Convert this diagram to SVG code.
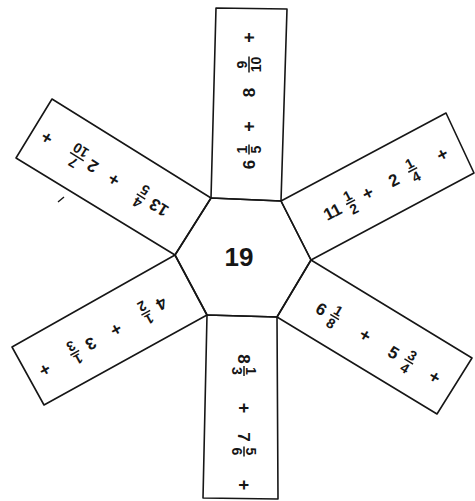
<svg xmlns="http://www.w3.org/2000/svg" width="475" height="501" viewBox="0 0 475 501">
<style>
.shape{fill:none;stroke:#161616;stroke-width:1.6;stroke-linejoin:round}
text{font-family:"Liberation Sans",Arial,sans-serif;font-weight:bold;fill:#161616;text-anchor:middle}
.w{font-size:17px}
.f{font-size:14px}
.p{font-size:18px}
.c{font-size:26px}
.bar{stroke:#161616;stroke-width:1.5}
</style>
<rect width="475" height="501" fill="#ffffff"/>
<g id="connectors"></g>

<g id="hexagon">
<polygon class="shape" points="211,198 281,201 311,260 277,317 207,315 175,255"/>
<text class="c" x="239" y="266">19</text>
</g>

<g id="arm-top">
<polygon class="shape" points="216,8 287,9 281,201 211,198"/>
<g transform="translate(246,199.5) rotate(-90) translate(0,3)">
<text class="w" x="35" y="6">6</text>
<text class="f" x="50" y="-2.2">1</text><line class="bar" x1="45" y1="0" x2="55" y2="0"/><text class="f" x="50" y="12.4">5</text>
<text class="p" x="73" y="6">+</text>
<text class="w" x="107" y="6">8</text>
<text class="f" x="135" y="-2.2">9</text><line class="bar" x1="127" y1="0" x2="143" y2="0"/><text class="f" x="135" y="12.4">10</text>
<text class="p" x="162" y="6">+</text>
</g>
</g>

<g id="arm-upper-right">
<polygon class="shape" points="281,201 446,113 474,173 311,260"/>
<g transform="translate(296,230.5) rotate(-27.4)">
<text class="w" x="41" y="6">11</text>
<text class="f" x="61.5" y="-2.2">1</text><line class="bar" x1="56.5" y1="0" x2="66.5" y2="0"/><text class="f" x="61.5" y="12.4">2</text>
<text class="p" x="81" y="6">+</text>
<text class="w" x="110" y="6">2</text>
<text class="f" x="131.5" y="-2.2">1</text><line class="bar" x1="126.5" y1="0" x2="136.5" y2="0"/><text class="f" x="131.5" y="12.4">4</text>
<text class="p" x="165" y="6">+</text>
</g>
</g>

<g id="arm-lower-right">
<polygon class="shape" points="311,260 472,358 437,414 277,317"/>
<g transform="translate(294,288.5) rotate(31) translate(0,3.5)">
<text class="w" x="34" y="6">6</text>
<text class="f" x="49.5" y="-2.2">1</text><line class="bar" x1="44.5" y1="0" x2="54.5" y2="0"/><text class="f" x="49.5" y="12.4">8</text>
<text class="p" x="85" y="6">+</text>
<text class="w" x="118.5" y="6">5</text>
<text class="f" x="136" y="-2.2">3</text><line class="bar" x1="131" y1="0" x2="141" y2="0"/><text class="f" x="136" y="12.4">4</text>
<text class="p" x="166" y="6">+</text>
</g>
</g>

<g id="arm-bottom">
<polygon class="shape" points="207,315 277,317 278,499 203,498"/>
<g transform="translate(242,316) rotate(90) translate(0,-2)">
<text class="w" x="43" y="6">8</text>
<text class="f" x="55" y="-2.2">1</text><line class="bar" x1="50" y1="0" x2="60" y2="0"/><text class="f" x="55" y="12.4">3</text>
<text class="p" x="92" y="6">+</text>
<text class="w" x="121" y="6">7</text>
<text class="f" x="135.5" y="-2.2">5</text><line class="bar" x1="130.5" y1="0" x2="140.5" y2="0"/><text class="f" x="135.5" y="12.4">6</text>
<text class="p" x="169" y="6">+</text>
</g>
</g>

<g id="arm-lower-left">
<polygon class="shape" points="175,255 207,315 44,405 12,347"/>
<g transform="translate(191,285) rotate(150.6) translate(0,-2)">
<text class="w" x="35" y="6">4</text>
<text class="f" x="53" y="-2.2">1</text><line class="bar" x1="48" y1="0" x2="58" y2="0"/><text class="f" x="53" y="12.4">2</text>
<text class="p" x="87" y="6">+</text>
<text class="w" x="116" y="6">3</text>
<text class="f" x="134.5" y="-2.2">1</text><line class="bar" x1="129.5" y1="0" x2="139.5" y2="0"/><text class="f" x="134.5" y="12.4">3</text>
<text class="p" x="169" y="6">+</text>
</g>
</g>

<g id="arm-upper-left">
<polygon class="shape" points="52,99 211,198 175,255 16,158"/>
<g transform="translate(193,226.5) rotate(211.9) translate(0,-2)">
<text class="w" x="39" y="6">13</text>
<text class="f" x="60" y="-2.2">4</text><line class="bar" x1="55" y1="0" x2="65" y2="0"/><text class="f" x="60" y="12.4">5</text>
<text class="p" x="92" y="6">+</text>
<text class="w" x="117" y="6">2</text>
<text class="f" x="135.5" y="-2.2">7</text><line class="bar" x1="127.5" y1="0" x2="143.5" y2="0"/><text class="f" x="135.5" y="12.4">10</text>
<text class="p" x="171" y="6">+</text>
</g>
</g>

<path d="M58,202 L64,197" stroke="#161616" stroke-width="1.4" fill="none"/>
</svg>
